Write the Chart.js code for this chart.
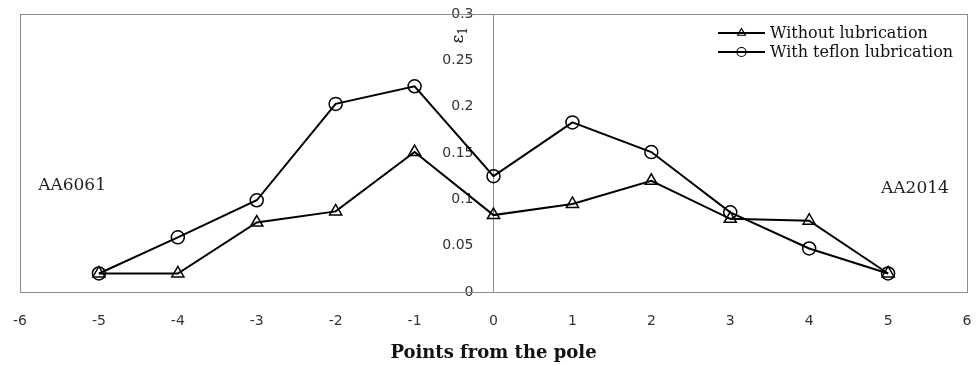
<!DOCTYPE html>
<html>
<head>
<meta charset="utf-8">
<script src="https://cdn.jsdelivr.net/npm/chart.js@4/dist/chart.umd.min.js"></script>
<style>
  html, body { margin: 0; padding: 0; background: #fff; }
  #wrap { width: 979px; height: 365px; }
</style>
</head>
<body>
<div id="wrap"><canvas id="strainChart" width="979" height="365"></canvas></div>
<script>
// Points from the pole (x) and strain values
const positions = [-5, -4, -3, -2, -1, 0, 1, 2, 3, 4, 5];
const withoutLubrication = [0.020, 0.020, 0.075, 0.087, 0.151, 0.083, 0.095, 0.120, 0.079, 0.077, 0.020];
const withTeflon = [0.020, 0.059, 0.099, 0.203, 0.222, 0.125, 0.183, 0.151, 0.086, 0.047, 0.020];
const seriesLabels = ['Without lubrication', 'With teflon lubrication'];
const yTickLabels = ['0', '0.05', '0.1', '0.15', '0.2', '0.25', '0.3'];
const alloyLabels = ['AA6061', 'AA2014'];

const serif = '"DejaVu Serif", serif';
const sans = '"DejaVu Sans", sans-serif';
const axisGrey = '#8c8c8c';

function toPoints(values) {
    return positions.map((x, i) => ({ x: x, y: values[i] }));
}

// Stretch the (zero-width) y axis so its right edge sits on x = 0
const centerAxisPlugin = {
    id: 'centerAxis',
    afterLayout(chart) {
        const y = chart.scales.y;
        y.left = chart.chartArea.left;
        y.right = chart.scales.x.getPixelForValue(0);
    }
};

// Box around plot area, drawn under the lines
const framePlugin = {
    id: 'frame',
    beforeDatasetsDraw(chart) {
        const { ctx, chartArea } = chart;
        ctx.save();
        ctx.strokeStyle = axisGrey;
        ctx.lineWidth = 1;
        ctx.strokeRect(Math.round(chartArea.left) + 0.5, Math.round(chartArea.top) + 0.5,
            Math.round(chartArea.right - chartArea.left), Math.round(chartArea.bottom - chartArea.top));
        ctx.restore();
    }
};

// Legend, axis symbol and alloy names
const labelsPlugin = {
    id: 'labels',
    afterDraw(chart) {
        const { ctx, chartArea, scales } = chart;
        ctx.save();

        // legend: line + hollow marker + text
        const lx = chartArea.right - 249;
        chart.data.datasets.forEach((ds, i) => {
            const y = chartArea.top + 19 + i * 19;
            ctx.strokeStyle = '#000';
            ctx.lineWidth = 2;
            ctx.beginPath();
            ctx.moveTo(lx, y);
            ctx.lineTo(lx + 47, y);
            ctx.stroke();
            ctx.fillStyle = 'rgba(0,0,0,0)';
            ctx.lineWidth = 1.2;
            Chart.helpers.drawPoint(ctx, {
                pointStyle: ds.pointStyle,
                radius: 4.5,
                rotation: 0,
                borderWidth: 1.2
            }, lx + 23.5, y);
            ctx.fillStyle = '#111';
            ctx.font = '16px ' + serif;
            ctx.textAlign = 'left';
            ctx.textBaseline = 'middle';
            ctx.fillText(ds.label, lx + 52, y + 1);
        });

        // y-axis symbol, rotated
        const ax = scales.x.getPixelForValue(0) - 35;
        ctx.translate(ax, chartArea.top + 22);
        ctx.rotate(-Math.PI / 2);
        ctx.fillStyle = '#111';
        ctx.textAlign = 'center';
        ctx.textBaseline = 'middle';
        ctx.font = '17px ' + serif;
        ctx.fillText('ε', -3, 0);
        ctx.font = '12px ' + serif;
        ctx.fillText('1', 5, 5);
        ctx.setTransform(1, 0, 0, 1, 0, 0);

        // alloy names
        ctx.font = '17px ' + serif;
        ctx.fillStyle = '#222';
        ctx.textBaseline = 'middle';
        ctx.textAlign = 'left';
        ctx.fillText(alloyLabels[0], scales.x.getPixelForValue(-5.77), scales.y.getPixelForValue(0.115));
        ctx.textAlign = 'right';
        ctx.fillText(alloyLabels[1], scales.x.getPixelForValue(5.77), scales.y.getPixelForValue(0.112));
        ctx.restore();
    }
};

const ctx = document.getElementById('strainChart').getContext('2d');
new Chart(ctx, {
    type: 'line',
    data: {
        datasets: [{
            label: seriesLabels[0],
            data: toPoints(withoutLubrication),
            borderColor: '#000',
            borderWidth: 2,
            backgroundColor: 'transparent',
            pointStyle: 'triangle',
            pointRadius: 7,
            pointBorderWidth: 1.5,
            pointBorderColor: '#000',
            pointBackgroundColor: 'transparent',
            tension: 0
        }, {
            label: seriesLabels[1],
            data: toPoints(withTeflon),
            borderColor: '#000',
            borderWidth: 2,
            backgroundColor: 'transparent',
            pointStyle: 'circle',
            pointRadius: 6.5,
            pointBorderWidth: 1.5,
            pointBorderColor: '#000',
            pointBackgroundColor: 'transparent',
            tension: 0
        }]
    },
    options: {
        responsive: false,
        animation: false,
        devicePixelRatio: 1,
        layout: {
            padding: { left: 20, right: 12, top: 14, bottom: 0 }
        },
        plugins: {
            legend: { display: false },
            tooltip: { enabled: false }
        },
        scales: {
            x: {
                type: 'linear',
                position: 'bottom',
                min: -6,
                max: 6,
                grid: { display: false, drawTicks: false },
                border: { display: true, color: axisGrey, width: 1 },
                ticks: {
                    stepSize: 1,
                    padding: 21,
                    color: '#333',
                    font: { family: sans, size: 14 }
                },
                title: {
                    display: true,
                    text: 'Points from the pole',
                    color: '#111',
                    font: { family: serif, size: 18, weight: 'bold' },
                    padding: { top: 14, bottom: 1 }
                },
                // tick padding otherwise inflates the side margins
                afterFit: (scale) => {
                    scale.height = 73;
                    scale.paddingLeft = 8;
                    scale.paddingRight = 5;
                }
            },
            y: {
                type: 'linear',
                position: 'left',
                min: 0,
                max: 0.3,
                grid: { display: false, drawTicks: false },
                border: { display: true, color: axisGrey, width: 1 },
                ticks: {
                    stepSize: 0.05,
                    padding: 20,
                    color: '#333',
                    font: { family: sans, size: 14 },
                    callback: (value, index) => yTickLabels[index]
                },
                afterFit: (scale) => {
                    scale.width = 0;
                    scale.paddingTop = 8;
                    scale.paddingBottom = 8;
                }
            }
        }
    },
    plugins: [centerAxisPlugin, framePlugin, labelsPlugin]
});
</script>
</body>
</html>
